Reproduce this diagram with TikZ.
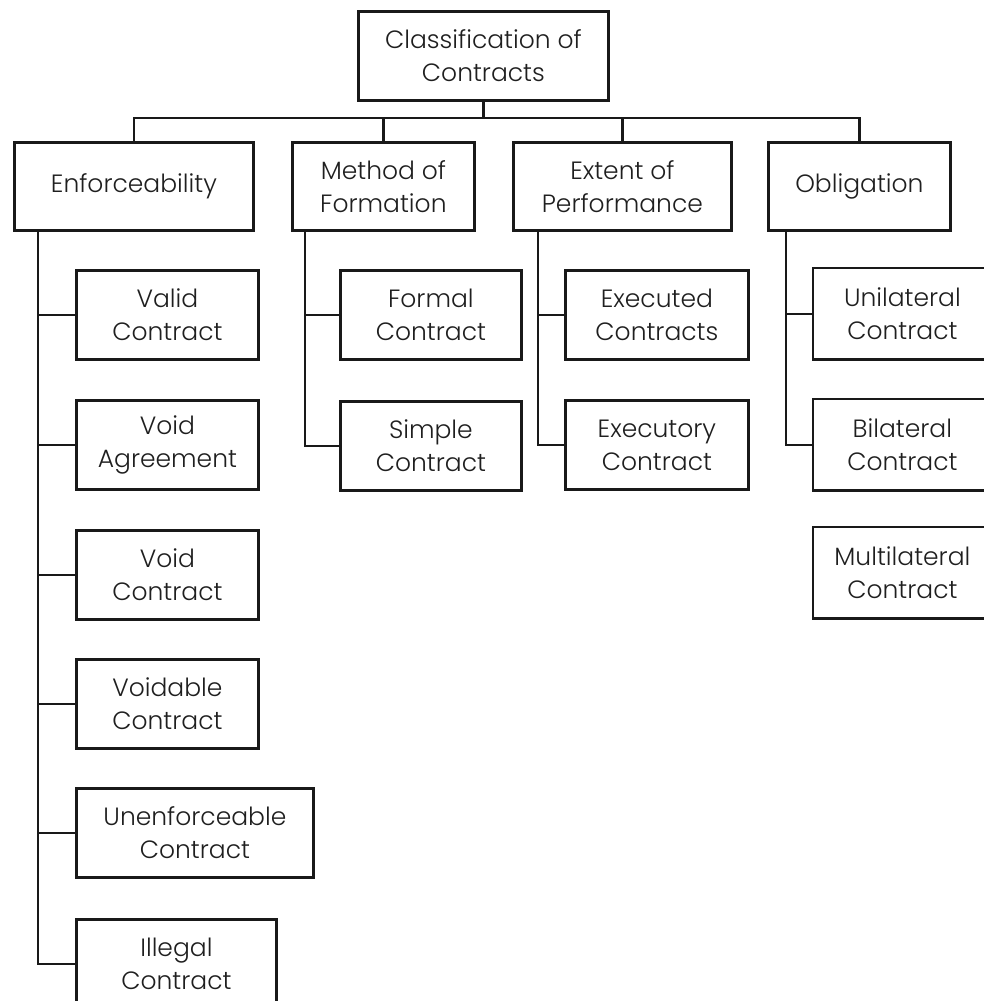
\documentclass[tikz,border=0pt]{standalone}
\usepackage{fontspec}
\setmainfont{Poppins Light}
\begin{document}
\begin{tikzpicture}[x=1pt,y=1pt,
  ink/.style={draw=black!90, line width=2.8pt},
  box/.style={ink, rectangle, inner sep=0pt, minimum height=89pt, align=center,
    text=black!88, font=\fontsize{25}{33}\selectfont},
  conn/.style={ink, line cap=rect}]
\useasboundingbox (0,0) rectangle (983,-1001);
% level 0
\node[box, minimum width=250pt, anchor=north west] (root) at (357,-10) {Classification of\\Contracts};
% level 1
\node[box, minimum width=239pt, minimum height=88pt, anchor=north west] (enf) at (13,-141) {Enforceability};
\node[box, minimum width=182pt, minimum height=88pt, anchor=north west] (meth) at (291,-141) {Method of\\Formation};
\node[box, minimum width=218pt, minimum height=88pt, anchor=north west] (ext) at (512,-141) {Extent of\\Performance};
\node[box, minimum width=182pt, minimum height=88pt, anchor=north west] (obl) at (767,-141) {Obligation};
% enforceability children
\node[box, minimum width=182pt, anchor=north west] (valid) at (75,-269) {Valid\\Contract};
\node[box, minimum width=182pt, anchor=north west] (vagr) at (75,-399) {Void\\Agreement};
\node[box, minimum width=182pt, anchor=north west] (vcon) at (75,-529) {Void\\Contract};
\node[box, minimum width=182pt, anchor=north west] (vdbl) at (75,-658) {Voidable\\Contract};
\node[box, minimum width=237pt, anchor=north west] (unenf) at (75,-787) {Unenforceable\\Contract};
\node[box, minimum width=200pt, minimum height=89pt, anchor=north west, append after command={}] (illeg) at (75,-918) {Illegal\\Contract};
% method children
\node[box, minimum width=181pt, anchor=north west] (formal) at (339,-269) {Formal\\Contract};
\node[box, minimum width=181pt, anchor=north west] (simple) at (339,-400) {Simple\\Contract};
% extent children
\node[box, minimum width=183pt, anchor=north west] (execd) at (564,-269) {Executed\\Contracts};
\node[box, minimum width=183pt, anchor=north west] (execy) at (564,-399) {Executory\\Contract};
% obligation children (cut off by the right edge)
\node[box, minimum width=176pt, anchor=north west, draw=none] (unil) at (813,-268) {Unilateral\\Contract};
\node[box, minimum width=176pt, anchor=north west, draw=none] (bil) at (813,-399) {Bilateral\\Contract};
\node[box, minimum width=176pt, anchor=north west, draw=none] (multi) at (813,-527) {Multilateral\\Contract};
\foreach \c in {unil,bil,multi}
  \draw[ink] ([xshift=20pt]\c.north east) -- (\c.north west) -- (\c.south west) -- ([xshift=20pt]\c.south east);
% illegal box, cut off by the bottom edge
\draw[ink, draw=white, line width=4pt] ([yshift=-1pt]illeg.south west) -- ([yshift=-1pt]illeg.south east);
% bus
\coordinate (bus) at (0,-118);
\draw[conn] (root.south) -- (root.south |- bus);
\draw[conn] (enf.north) |- (obl.north |- bus) -- (obl.north);
\draw[conn] (meth.north) -- (meth.north |- bus);
\draw[conn] (ext.north) -- (ext.north |- bus);
% trunks
\coordinate (te) at ([xshift=25pt]enf.south west);
\coordinate (tm) at ([xshift=14pt]meth.south west);
\coordinate (tx) at ([xshift=26pt]ext.south west);
\coordinate (to) at ([xshift=19pt]obl.south west);
\foreach \c in {valid,vagr,vcon,vdbl,unenf,illeg} \draw[conn] (te) |- (\c.west);
\foreach \c in {formal,simple} \draw[conn] (tm) |- (\c.west);
\foreach \c in {execd,execy} \draw[conn] (tx) |- (\c.west);
\foreach \c in {unil,bil} \draw[conn] (to) |- (\c.west);
\end{tikzpicture}
\end{document}
